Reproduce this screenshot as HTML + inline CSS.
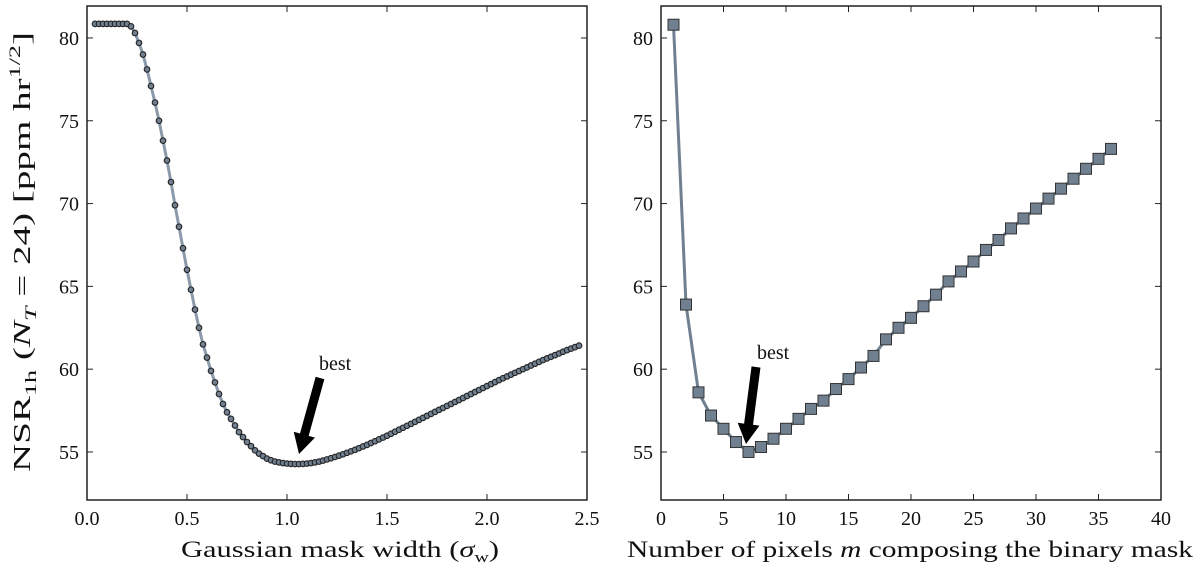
<!DOCTYPE html>
<html><head><meta charset="utf-8"><style>
html,body{margin:0;padding:0;background:#fff;}
svg{display:block;font-family:"Liberation Serif","DejaVu Serif",serif;}
</style></head><body>
<svg id="chart" width="1200" height="572" viewBox="0 0 1200 572">
<g id="left"></g>
<g id="right"></g>
<text x="0" y="0" transform="translate(30,252) rotate(-90)" text-anchor="middle" font-size="24" fill="#111" textLength="440" lengthAdjust="spacingAndGlyphs">NSR<tspan font-size="16" dy="6">1h</tspan><tspan dy="-6"> (</tspan><tspan font-style="italic">N</tspan><tspan font-size="16" dy="6" font-style="italic">T</tspan><tspan dy="-6"> = 24) [ppm hr</tspan><tspan font-size="16" dy="-10">1/2</tspan><tspan dy="10">]</tspan></text>
<text x="181" y="557" font-size="23" fill="#111" textLength="318" lengthAdjust="spacingAndGlyphs">Gaussian mask width (<tspan font-style="italic">σ</tspan><tspan font-size="15" dy="5">w</tspan><tspan dy="-5">)</tspan></text>
<text x="627" y="557" font-size="23" fill="#111" textLength="566" lengthAdjust="spacingAndGlyphs">Number of pixels <tspan font-style="italic">m</tspan> composing the binary mask</text>
</svg>
<script>
const leftY = [80.85,80.85,80.85,80.85,80.85,80.85,80.85,80.85,80.85,
80.7,80.3,79.7,79.0,78.1,77.1,76.1,75.0,73.8,72.6,71.3,69.9,68.6,67.3,66.0,64.8,63.6,62.5,61.5,60.7,59.9,59.2,58.5,57.9,57.4,57.0,56.6,56.2,55.9,55.6,55.35,55.1,54.9,54.75,54.6,54.5,54.42,54.37,54.33,54.3,54.28,54.27,54.27,54.28,54.3,54.33,54.37,54.42,54.48,54.55,54.62,54.7,54.78,54.86,54.95,55.04,55.13,55.23,55.33,55.43,55.54,55.65,55.76,55.87,55.98,56.1,56.22,56.34,56.46,56.58,56.7,56.82,56.94,57.06,57.18,57.3,57.42,57.54,57.66,57.78,57.9,58.02,58.14,58.26,58.38,58.5,58.62,58.74,58.86,58.98,59.1,59.22,59.34,59.45,59.56,59.67,59.78,59.89,60.0,60.11,60.22,60.33,60.44,60.55,60.65,60.75,60.85,60.95,61.05,61.15,61.24,61.33,61.42];
const leftX = leftY.map((_, i) => +(0.04 + i * 0.02).toFixed(2));
const leftXTicks = ["0.0","0.5","1.0","1.5","2.0","2.5"];
const rightX = [1,2,3,4,5,6,7,8,9,10,11,12,13,14,15,16,17,18,19,20,21,22,23,24,25,26,27,28,29,30,31,32,33,34,35,36];
const rightY = [80.8,63.9,58.6,57.2,56.4,55.6,55.0,55.3,55.8,56.4,57.0,57.6,58.1,58.8,59.4,60.1,60.8,61.8,62.5,63.1,63.8,64.5,65.3,65.9,66.5,67.2,67.8,68.5,69.1,69.7,70.3,70.9,71.5,72.1,72.7,73.3];
const rightXTicks = [0,5,10,15,20,25,30,35,40];
const yTicks = [55,60,65,70,75,80];

const NS = "http://www.w3.org/2000/svg";
function mk(parent, tag, attrs){const e=document.createElementNS(NS,tag);for(const k in attrs)e.setAttribute(k,attrs[k]);parent.appendChild(e);return e;}
const T=6, B=500, Y0=52.1, Y1=81.93;
const yS = v => B - (v - Y0) / (Y1 - Y0) * (B - T);

function panel(g, L, R, xmin, xmax, xticks, xlabels, name){
  const xS = v => L + (v - xmin) / (xmax - xmin) * (R - L);
  xticks.forEach((t,i)=>{
    const x=xS(+t);
    let l=mk(g,'line',{x1:x,x2:x,y1:B,y2:B-6,stroke:'#222','stroke-width':1});
    
    
    l=mk(g,'line',{x1:x,x2:x,y1:T,y2:T+6,stroke:'#222','stroke-width':1});
    
    
    const tx=mk(g,'text',{x:x,y:B+25,'text-anchor':'middle','font-size':20,fill:'#111'});
    tx.textContent=xlabels[i];
    
    
  });
  yTicks.forEach(t=>{
    const y=yS(t);
    let l=mk(g,'line',{x1:L,x2:L+6,y1:y,y2:y,stroke:'#222','stroke-width':1});
    
    
    l=mk(g,'line',{x1:R,x2:R-6,y1:y,y2:y,stroke:'#222','stroke-width':1});
    
    
    const tx=mk(g,'text',{x:L-8,y:y+7,'text-anchor':'end','font-size':20,fill:'#111'});
    tx.textContent=String(t);
    
    
  });
  const fr=mk(g,'rect',{x:L,y:T,width:R-L,height:B-T,fill:'none',stroke:'#222','stroke-width':1.5});
  
  
  return xS;
}

const gl=document.getElementById('left');
const xL=panel(gl,87,587,0,2.5,leftXTicks,leftXTicks,'left');
const pl=mk(gl,'polyline',{points:leftX.map((x,i)=>xL(x)+','+yS(leftY[i])).join(' '),fill:'none',stroke:'#8a9aab','stroke-width':3});


leftX.forEach((x,i)=>{
  const c=mk(gl,'circle',{cx:xL(x),cy:yS(leftY[i]),r:2.8,fill:'#708090',stroke:'#222','stroke-width':1.1});
  
  
});

const gr=document.getElementById('right');
const xR=panel(gr,661,1161,0,40,rightXTicks,rightXTicks.map(String),'right');
const pr=mk(gr,'polyline',{points:rightX.map((x,i)=>xR(x)+','+yS(rightY[i])).join(' '),fill:'none',stroke:'#708090','stroke-width':3});


rightX.forEach((x,i)=>{
  const s=mk(gr,'rect',{x:xR(x)-5.5,y:yS(rightY[i])-5.5,width:11,height:11,fill:'#708090',stroke:'#333','stroke-width':1});
  
  
});

function arrow(g,x1,y1,x2,y2,name){
  const dx=x2-x1, dy=y2-y1, len=Math.hypot(dx,dy), ux=dx/len, uy=dy/len, px=-uy, py=ux;
  const hl=20, hw=11, sw=4.5;
  const bx=x2-ux*hl, by=y2-uy*hl;
  const pts=[[x1+px*sw,y1+py*sw],[bx+px*sw,by+py*sw],[bx+px*hw,by+py*hw],[x2,y2],[bx-px*hw,by-py*hw],[bx-px*sw,by-py*sw],[x1-px*sw,y1-py*sw]];
  const a=mk(g,'polygon',{points:pts.map(p=>p.join(',')).join(' '),fill:'#000'});
  
  
}
arrow(gl,320,378,299,454,'left-best-arrow');
const t1=mk(gl,'text',{x:319,y:370,'font-size':20,fill:'#111'});
t1.textContent='best';


arrow(gr,756,367,746,444,'right-best-arrow');
const t2=mk(gr,'text',{x:757,y:359,'font-size':20,fill:'#111'});
t2.textContent='best';


</script>
</body></html>
